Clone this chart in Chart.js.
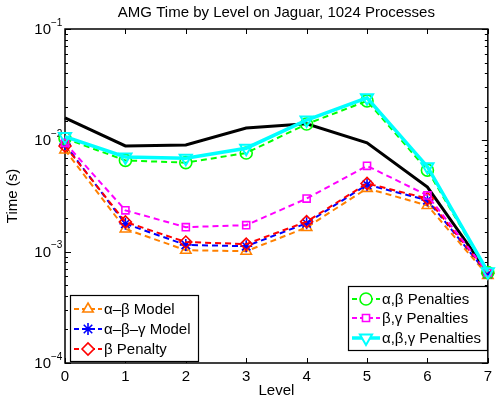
<!DOCTYPE html>
<html>
<head>
<meta charset="utf-8">
<script src="https://cdn.jsdelivr.net/npm/chart.js@4"></script>
<style>
  html, body { margin: 0; padding: 0; background: #fff; }
  #wrap { width: 497px; height: 400px; }
</style>
</head>
<body>
<div id="wrap"><canvas id="amgChart" width="497" height="400"></canvas></div>
<script>
// ------------------------------------------------------------
//  Data (time in seconds per level)
// ------------------------------------------------------------
const levels = ['0', '1', '2', '3', '4', '5', '6', '7'];

const measured        = [0.0159, 0.0089, 0.0091, 0.0129, 0.0141, 0.0095, 0.0038, 0.00065];
const abModel         = [0.0082, 0.0016, 0.00103, 0.00101, 0.00165, 0.0037, 0.0026, 0.00061];
const abgModel        = [0.0092, 0.00178, 0.00115, 0.00112, 0.0018, 0.0040, 0.0029, 0.00063];
const bPenalty        = [0.0089, 0.00185, 0.00122, 0.00117, 0.00186, 0.0041, 0.0030, 0.00064];
const abPenalties     = [0.0104, 0.0066, 0.0063, 0.0077, 0.0140, 0.0226, 0.0054, 0.00065];
const bgPenalties     = [0.0095, 0.00235, 0.00166, 0.00173, 0.0030, 0.0059, 0.0032, 0.00065];
const abgPenalties    = [0.0108, 0.0071, 0.0069, 0.0085, 0.0152, 0.0241, 0.0058, 0.00066];

// decade ticks: base + exponent
const yTickExponents = ['−1', '−2', '−3', '−4'];

const FONT = 'Liberation Sans, Arial, Helvetica, sans-serif';

function dashed(label, data, color, style, order, extra) {
  return Object.assign({
    label: label,
    data: data,
    borderColor: color,
    borderWidth: 2,
    borderDash: [6, 4],
    pointStyle: style,
    pointRadius: 6,
    pointBorderWidth: 1.6,
    pointBorderColor: color,
    pointBackgroundColor: 'rgba(0,0,0,0)',
    tension: 0,
    fill: false,
    order: order
  }, extra || {});
}

const datasets = [
  { label: 'measured', data: measured, borderColor: '#000', borderWidth: 3, pointRadius: 0, tension: 0, fill: false, order: 7 },
  dashed('α–β Model', abModel, '#ff8000', 'triangle', 6),
  dashed('α–β–γ Model', abgModel, '#0000ff', 'star', 5),
  dashed('β Penalty', bPenalty, '#ff0000', 'rectRot', 4),
  dashed('α,β Penalties', abPenalties, '#00ff00', 'circle', 3),
  dashed('β,γ Penalties', bgPenalties, '#ff00ff', 'rect', 2, { pointRadius: 5 }),
  dashed('α,β,γ Penalties', abgPenalties, '#00ffff', 'triangle', 1,
    { borderDash: [], borderWidth: 3.5, pointRotation: 180, pointRadius: 7, pointBorderWidth: 2 })
];

// ------------------------------------------------------------
//  Frame + inward ticks + title + decade labels + two legend boxes
// ------------------------------------------------------------
const matlabDecor = {
  id: 'matlabDecor',
  beforeDatasetsDraw(chart) {
    const { ctx, chartArea: a, scales } = chart;
    ctx.save();
    ctx.strokeStyle = '#000';
    ctx.lineWidth = 1;
    // y ticks, both sides
    scales.y.ticks.forEach((t) => {
      const py = Math.round(scales.y.getPixelForValue(t.value)) + 0.5;
      const major = Math.abs(Math.log10(t.value) - Math.round(Math.log10(t.value))) < 1e-6;
      const len = major ? 6 : 3;
      ctx.beginPath();
      ctx.moveTo(a.left, py); ctx.lineTo(a.left + len, py);
      ctx.moveTo(a.right, py); ctx.lineTo(a.right - len, py);
      ctx.stroke();
    });
    // x ticks, top and bottom
    scales.x.ticks.forEach((t, i) => {
      const px = Math.round(scales.x.getPixelForTick(i)) + 0.5;
      ctx.beginPath();
      ctx.moveTo(px, a.bottom); ctx.lineTo(px, a.bottom - 5);
      ctx.moveTo(px, a.top); ctx.lineTo(px, a.top + 5);
      ctx.stroke();
    });
    ctx.lineWidth = 1.5;
    ctx.strokeRect(a.left, a.top, a.right - a.left, a.bottom - a.top);

    ctx.fillStyle = '#000';
    // title
    ctx.font = '15px ' + FONT;
    ctx.textAlign = 'center';
    ctx.textBaseline = 'middle';
    ctx.fillText('AMG Time by Level on Jaguar, 1024 Processes', (a.left + a.right) / 2, 13);
    // decade labels 10^-1 .. 10^-4
    yTickExponents.forEach((ex, i) => {
      const py = scales.y.getPixelForValue(Math.pow(10, -(i + 1)));
      ctx.font = '15px ' + FONT;
      ctx.textAlign = 'right';
      ctx.fillText('10', 51, py + 1);
      ctx.font = '10px ' + FONT;
      ctx.textAlign = 'left';
      ctx.fillText(ex, 51, py - 6);
    });
    ctx.restore();
  },
  afterDraw(chart) {
    const { ctx } = chart;
    const ds = chart.data.datasets;
    const boxes = [
      { x: 70, y: 295, w: 128, h: 66, items: [1, 2, 3], rowY: [309, 329, 349] },
      { x: 348, y: 286, w: 139, h: 64, items: [4, 5, 6], rowY: [299, 318, 338] }
    ];
    ctx.save();
    boxes.forEach((b) => {
      ctx.fillStyle = '#fff';
      ctx.fillRect(b.x, b.y, b.w, b.h);
      ctx.strokeStyle = '#000';
      ctx.lineWidth = 1.2;
      ctx.strokeRect(b.x + 0.5, b.y + 0.5, b.w, b.h);
      b.items.forEach((idx, k) => {
        const d = ds[idx];
        const y = b.rowY[k];
        const x0 = b.x + 4, x1 = b.x + 32;
        ctx.strokeStyle = d.borderColor;
        ctx.lineWidth = d.borderWidth;
        ctx.setLineDash(d.borderDash && d.borderDash.length ? [5, 3] : []);
        ctx.beginPath();
        ctx.moveTo(x0, y); ctx.lineTo(x1, y);
        ctx.stroke();
        ctx.setLineDash([]);
        ctx.fillStyle = '#fff';
        ctx.strokeStyle = d.pointBorderColor;
        ctx.lineWidth = d.pointBorderWidth;
        Chart.helpers.drawPoint(ctx, {
          pointStyle: d.pointStyle,
          radius: d.pointRadius,
          rotation: d.pointRotation || 0,
          borderWidth: d.pointBorderWidth
        }, (x0 + x1) / 2, y);
        ctx.fillStyle = '#000';
        ctx.font = '15px ' + FONT;
        ctx.textAlign = 'left';
        ctx.textBaseline = 'middle';
        ctx.fillText(d.label, x1 + 2, y + 1);
      });
    });
    ctx.restore();
  }
};

new Chart(document.getElementById('amgChart').getContext('2d'), {
  type: 'line',
  data: { labels: levels, datasets: datasets },
  options: {
    responsive: false,
    animation: false,
    devicePixelRatio: 1,
    layout: { padding: { top: 29, right: 6, left: 0, bottom: 0 } },
    plugins: {
      legend: { display: false },
      title: { display: false },
      tooltip: { enabled: false }
    },
    scales: {
      x: {
        type: 'category',
        offset: false,
        grid: { display: false, drawTicks: false },
        border: { display: false },
        ticks: { color: '#000', font: { family: FONT, size: 15 }, padding: 5, maxRotation: 0 },
        title: { display: true, text: 'Level', color: '#000', font: { family: FONT, size: 15 }, padding: { top: 0, bottom: 0 } },
        afterFit(scale) { scale.height = 37; }
      },
      y: {
        type: 'logarithmic',
        min: 1e-4,
        max: 1e-1,
        grid: { display: false, drawTicks: false },
        border: { display: false },
        ticks: {
          autoSkip: false,
          callback() { return ''; }
        },
        title: { display: true, text: 'Time (s)', color: '#000', font: { family: FONT, size: 15 }, padding: { top: 4, bottom: 0 } },
        afterFit(scale) { scale.width = 65; }
      }
    }
  },
  plugins: [matlabDecor]
});
</script>
</body>
</html>
